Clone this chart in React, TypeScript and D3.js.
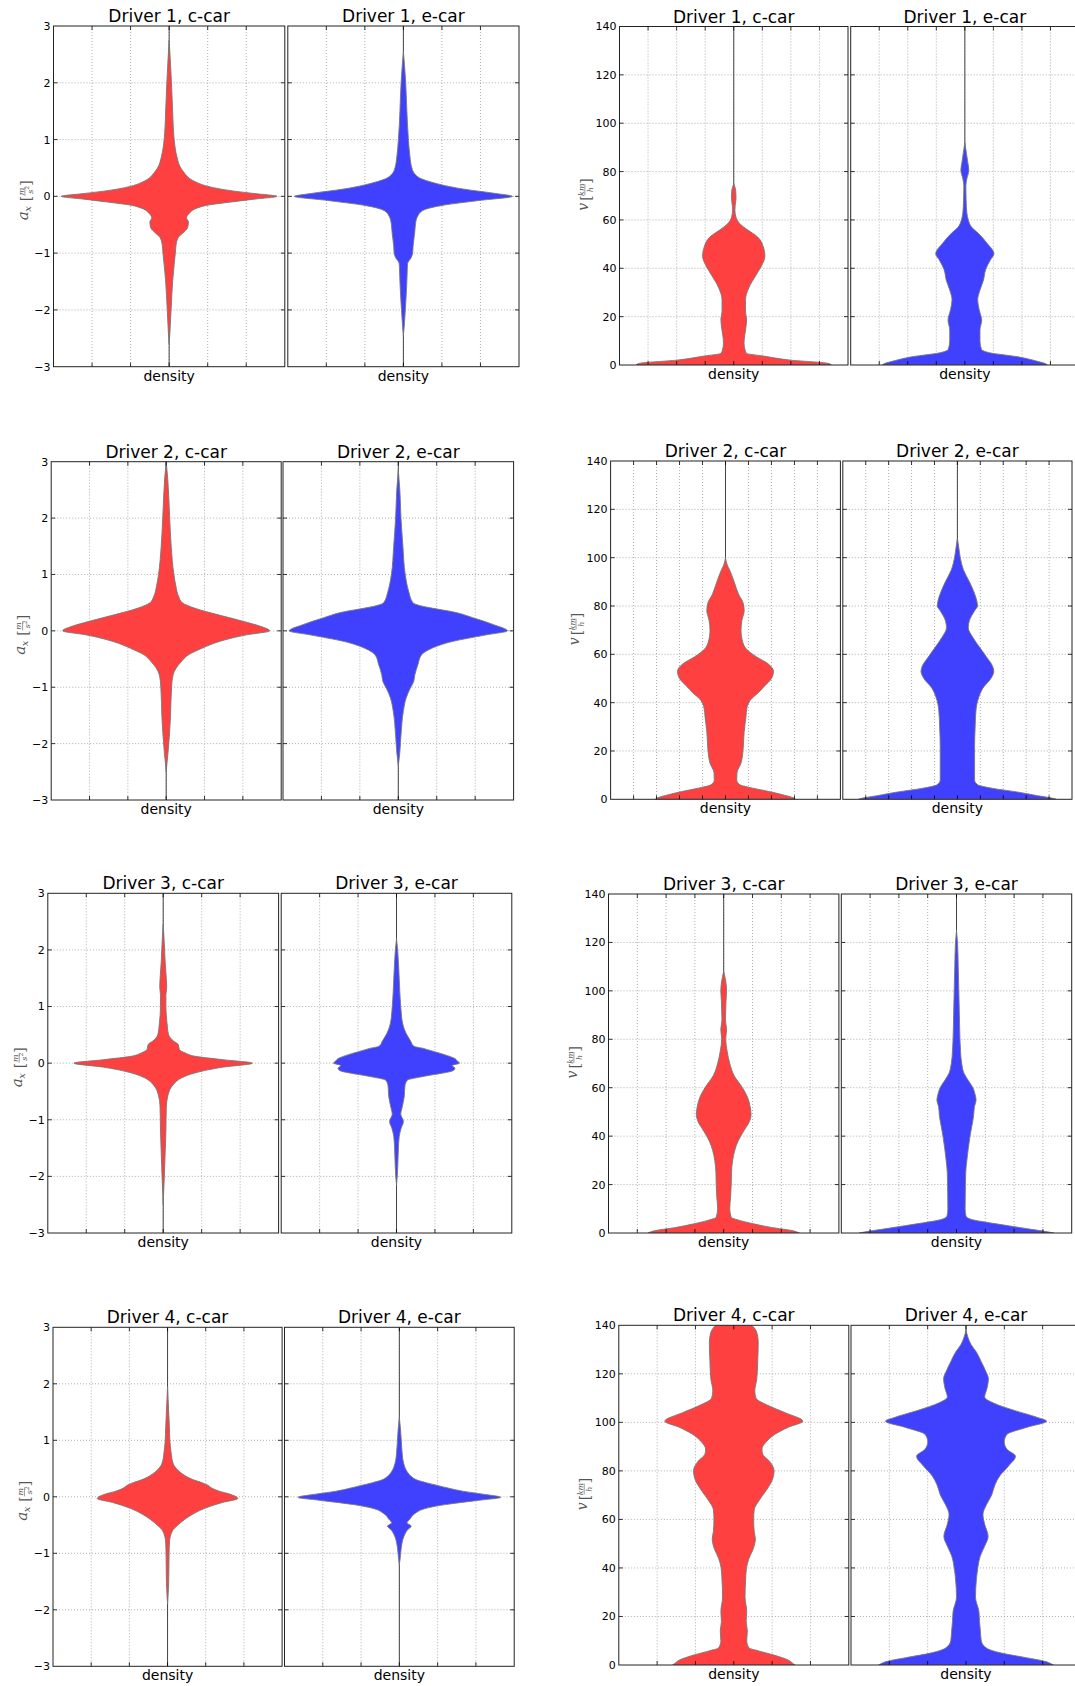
import React from 'react';
import * as d3 from 'd3';

type Pt = [number, number]; // [value, half-width in density grid units]

const drivers = ['Driver 1', 'Driver 2', 'Driver 3', 'Driver 4'];
const cars = ['c-car', 'e-car'];
const carColors = ['#ff4040', '#4040ff'];
const accelTicks = [-3, -2, -1, 0, 1, 2, 3];
const accelTickLabels = ['\u22123', '\u22122', '\u22121', '0', '1', '2', '3'];
const speedTicks = [0, 20, 40, 60, 80, 100, 120, 140];
const speedTickLabels = ['0', '20', '40', '60', '80', '100', '120', '140'];

// ---- acceleration density profiles (a_x in m/s^2, half width) ----
const accelD1C: Pt[] = [
  [2.75, 0], [2.4, 0.03], [2.0, 0.06], [1.5, 0.09], [1.0, 0.13], [0.7, 0.2], [0.5, 0.3], [0.4, 0.41],
  [0.32, 0.52], [0.25, 0.7], [0.17, 1.04], [0.1, 1.6], [0.05, 2.2], [0, 2.8], [-0.05, 2.2], [-0.1, 1.6],
  [-0.15, 1.04], [-0.2, 0.75], [-0.3, 0.52], [-0.38, 0.45], [-0.45, 0.5], [-0.55, 0.48], [-0.65, 0.35],
  [-0.72, 0.24], [-0.85, 0.18], [-1.0, 0.16], [-1.2, 0.13], [-1.5, 0.09], [-2.0, 0.05], [-2.4, 0.02], [-2.6, 0],
];
const accelD1E: Pt[] = [
  [2.55, 0], [2.3, 0.03], [2.0, 0.06], [1.5, 0.09], [1.0, 0.13], [0.7, 0.17], [0.5, 0.22], [0.4, 0.29],
  [0.3, 0.5], [0.25, 0.73], [0.13, 1.54], [0.05, 2.4], [0, 2.83], [-0.07, 2.0], [-0.16, 1.0], [-0.25, 0.5],
  [-0.35, 0.37], [-0.42, 0.33], [-0.66, 0.29], [-0.89, 0.25], [-1.0, 0.24], [-1.08, 0.2], [-1.18, 0.11],
  [-1.3, 0.1], [-1.5, 0.09], [-2.0, 0.05], [-2.3, 0.02], [-2.45, 0],
];
const accelD2C: Pt[] = [
  [3.0, 0], [2.7, 0.04], [2.0, 0.09], [1.5, 0.13], [1.0, 0.2], [0.8, 0.25], [0.6, 0.33], [0.5, 0.42],
  [0.4, 0.75], [0.28, 1.38], [0.17, 2.0], [0.08, 2.46], [0, 2.7], [-0.07, 2.1], [-0.19, 1.38], [-0.31, 0.93],
  [-0.43, 0.57], [-0.55, 0.39], [-0.66, 0.26], [-0.78, 0.18], [-1.0, 0.14], [-1.55, 0.11], [-2.14, 0.05],
  [-2.35, 0.02], [-2.5, 0],
];
const accelD2E: Pt[] = [
  [2.85, 0], [2.5, 0.04], [2.0, 0.07], [1.5, 0.12], [1.0, 0.18], [0.7, 0.27], [0.5, 0.38], [0.45, 0.55],
  [0.4, 0.9], [0.34, 1.4], [0.22, 2.0], [0.11, 2.48], [0, 2.84], [-0.07, 2.3], [-0.19, 1.4], [-0.31, 0.87],
  [-0.43, 0.6], [-0.6, 0.51], [-0.78, 0.43], [-0.9, 0.4], [-1.02, 0.31], [-1.2, 0.2], [-1.43, 0.13],
  [-1.85, 0.07], [-2.15, 0.04], [-2.4, 0],
];
const accelD3C: Pt[] = [
  [2.45, 0], [2.1, 0.03], [1.8, 0.05], [1.5, 0.08], [1.35, 0.09], [1.2, 0.07], [1.0, 0.07], [0.7, 0.1],
  [0.5, 0.14], [0.39, 0.27], [0.33, 0.39], [0.24, 0.42], [0.18, 0.57], [0.12, 0.84], [0.06, 1.56], [0, 2.32],
  [-0.07, 1.56], [-0.17, 0.84], [-0.26, 0.48], [-0.38, 0.26], [-0.55, 0.13], [-0.8, 0.08], [-1.2, 0.07],
  [-1.6, 0.05], [-2.0, 0.03], [-2.3, 0.01], [-2.5, 0],
];
const accelD3E: Pt[] = [
  [2.2, 0], [2.0, 0.03], [1.5, 0.07], [1.0, 0.11], [0.7, 0.16], [0.5, 0.27], [0.4, 0.36], [0.3, 0.45],
  [0.26, 0.7], [0.22, 0.9], [0.15, 1.25], [0.08, 1.52], [0.04, 1.58], [0, 1.64], [-0.04, 1.45], [-0.09, 1.52],
  [-0.13, 1.48], [-0.17, 1.25], [-0.21, 0.9], [-0.25, 0.58], [-0.3, 0.28], [-0.4, 0.22], [-0.6, 0.2],
  [-0.8, 0.14], [-0.9, 0.11], [-1.03, 0.18], [-1.15, 0.12], [-1.3, 0.07], [-1.5, 0.05], [-2.0, 0.02], [-2.15, 0],
];
const accelD4C: Pt[] = [
  [1.95, 0], [1.5, 0.03], [1.2, 0.05], [1.0, 0.06], [0.8, 0.09], [0.6, 0.14], [0.5, 0.23], [0.4, 0.4],
  [0.3, 0.68], [0.25, 0.9], [0.21, 1.04], [0.15, 1.17], [0.1, 1.35], [0.05, 1.62], [-0.03, 1.84], [-0.1, 1.44],
  [-0.2, 0.99], [-0.3, 0.68], [-0.4, 0.45], [-0.5, 0.27], [-0.6, 0.13], [-0.8, 0.05], [-1.0, 0.04],
  [-1.5, 0.03], [-1.9, 0],
];
const accelD4E: Pt[] = [
  [1.4, 0], [1.2, 0.03], [1.0, 0.05], [0.8, 0.07], [0.6, 0.11], [0.45, 0.2], [0.35, 0.33], [0.3, 0.45],
  [0.25, 0.7], [0.2, 1.0], [0.15, 1.3], [0.1, 1.65], [0.05, 2.15], [-0.01, 2.65], [-0.06, 2.1], [-0.1, 1.62],
  [-0.15, 1.08], [-0.2, 0.72], [-0.3, 0.4], [-0.4, 0.27], [-0.46, 0.2], [-0.52, 0.31], [-0.58, 0.22],
  [-0.7, 0.12], [-0.9, 0.05], [-1.1, 0.02], [-1.2, 0],
];

// ---- speed density profiles (v in km/h, half width) ----
const speedD1C: Pt[] = [
  [75, 0], [72, 0.07], [69, 0.08], [66, 0.05], [64, 0.04], [61, 0.08], [58, 0.25], [56, 0.47], [53, 0.83],
  [49, 1.03], [45, 1.09], [41, 0.97], [37, 0.77], [32, 0.53], [27, 0.41], [22, 0.41], [19, 0.45], [15, 0.42],
  [12, 0.38], [9, 0.36], [6, 0.4], [4.8, 0.45], [3.7, 1.04], [2, 2.0], [0.7, 3.3], [0, 3.42],
];
const speedD1E: Pt[] = [
  [92, 0], [88, 0.05], [84, 0.1], [80.5, 0.14], [77, 0.07], [74, 0.035], [68, 0.045], [63, 0.07], [60, 0.12],
  [57, 0.24], [54.5, 0.47], [50.5, 0.77], [46, 1.02], [43.5, 0.9], [39.5, 0.73], [35, 0.65], [31, 0.53],
  [27, 0.45], [23, 0.5], [18.5, 0.59], [14.5, 0.53], [10, 0.53], [6.5, 0.58], [5, 0.9], [3.5, 1.8],
  [1.5, 2.55], [0.4, 2.85], [0, 2.88],
];
const speedD2C: Pt[] = [
  [100, 0], [97, 0.06], [95, 0.14], [90, 0.3], [85, 0.45], [81, 0.62], [78, 0.65], [74, 0.57], [70, 0.54],
  [65, 0.6], [62, 0.74], [59, 1.07], [56, 1.49], [53, 1.67], [50, 1.6], [47, 1.37], [44, 1.13], [41, 0.86],
  [38, 0.75], [34, 0.71], [28, 0.65], [22, 0.62], [19, 0.6], [15, 0.54], [11, 0.4], [8, 0.39], [6, 0.5],
  [5, 0.8], [3.5, 1.4], [2, 1.95], [0.5, 2.38], [0, 2.44],
];
const speedD2E: Pt[] = [
  [108, 0], [104, 0.05], [100, 0.1], [95, 0.21], [90, 0.42], [86, 0.57], [82, 0.68], [80, 0.7], [78, 0.6],
  [74, 0.42], [71, 0.38], [67, 0.54], [63, 0.77], [59, 1.01], [55, 1.23], [53, 1.27], [50, 1.17], [46, 0.89],
  [42, 0.74], [37, 0.65], [30, 0.62], [22, 0.6], [12, 0.6], [8, 0.6], [6, 0.71], [4.5, 1.25], [3, 2.1],
  [1.5, 2.8], [0.5, 3.3], [0, 3.45],
];
const speedD3C: Pt[] = [
  [108, 0], [104, 0.07], [100, 0.1], [96, 0.08], [92, 0.07], [88, 0.06], [84, 0.1], [80, 0.07], [75, 0.12],
  [70, 0.21], [65, 0.36], [60, 0.65], [56, 0.83], [52, 0.92], [49, 0.95], [46, 0.89], [42, 0.69], [38, 0.5],
  [34, 0.38], [30, 0.31], [25, 0.27], [20, 0.26], [15, 0.24], [10, 0.21], [6.5, 0.26], [5.2, 0.55],
  [3.7, 1.07], [2.3, 1.66], [1, 2.37], [0, 2.63],
];
const speedD3E: Pt[] = [
  [125, 0], [120, 0.035], [110, 0.06], [100, 0.08], [90, 0.1], [80, 0.12], [75, 0.14], [70, 0.18], [66, 0.26],
  [63, 0.41], [60, 0.57], [57, 0.65], [55, 0.68], [52, 0.62], [48, 0.59], [44, 0.53], [40, 0.47], [35, 0.41],
  [30, 0.36], [25, 0.32], [20, 0.31], [10, 0.3], [7, 0.33], [5.5, 0.55], [4.5, 1.0], [3, 1.8], [1.5, 2.6],
  [0.5, 3.15], [0, 3.38],
];
const speedD4C: Pt[] = [
  [141, 0.5], [140, 0.62], [137, 0.8], [133, 0.85], [125, 0.83], [118, 0.8], [113, 0.73], [110, 0.77],
  [107, 1.18], [104, 1.78], [100.5, 2.4], [98, 1.9], [95, 1.42], [92, 1.13], [89, 0.98], [87, 1.0], [84, 1.24],
  [80, 1.4], [76, 1.33], [72, 1.13], [68, 0.89], [64, 0.71], [60, 0.69], [55, 0.71], [52, 0.75], [48, 0.68],
  [44, 0.53], [40, 0.44], [35, 0.41], [28, 0.39], [22, 0.45], [18, 0.43], [14, 0.47], [10, 0.45], [7, 0.53],
  [6, 0.8], [4, 1.42], [2, 1.9], [0.5, 2.07], [0, 2.13],
];
const speedD4E: Pt[] = [
  [138, 0], [135, 0.07], [132, 0.18], [129, 0.36], [125, 0.53], [121, 0.69], [118, 0.78], [114, 0.73],
  [110.5, 0.65], [108, 0.95], [105, 1.66], [102, 2.49], [100.5, 2.8], [98, 2.13], [95, 1.42], [92, 1.33],
  [89, 1.42], [86, 1.72], [82, 1.48], [78, 1.18], [74, 1.0], [70, 0.89], [66, 0.71], [62, 0.59], [58, 0.65],
  [53, 0.77], [49, 0.65], [45, 0.5], [40, 0.41], [35, 0.36], [28, 0.33], [22, 0.45], [18, 0.47], [14, 0.5],
  [10, 0.53], [7, 0.71], [5, 1.2], [3, 2.1], [1.5, 2.75], [0.5, 2.96], [0, 3.04],
];

const accelProfiles: Pt[][][] = [
  [accelD1C, accelD1E], [accelD2C, accelD2E], [accelD3C, accelD3E], [accelD4C, accelD4E],
];
const speedProfiles: Pt[][][] = [
  [speedD1C, speedD1E], [speedD2C, speedD2E], [speedD3C, speedD3E], [speedD4C, speedD4E],
];

// ---- layout (pixels) ----
type Row = { y0: number; y1: number; xs: number[][]; grid: number };
const accelLayout: Row[] = [
  { y0: 26, y1: 366.7, xs: [[53.5, 284.8], [287.8, 519]], grid: 6 },
  { y0: 461.7, y1: 800, xs: [[51.2, 281.2], [283, 513.6]], grid: 6 },
  { y0: 893.3, y1: 1233, xs: [[47.8, 278.6], [281.2, 511.8]], grid: 6 },
  { y0: 1327.3, y1: 1666.3, xs: [[53, 282.1], [284.5, 514.2]], grid: 6 },
];
const speedLayout: Row[] = [
  { y0: 26.5, y1: 365, xs: [[619.5, 848], [850.7, 1079]], grid: 8 },
  { y0: 461, y1: 799.3, xs: [[610.6, 840.4], [842.8, 1072]], grid: 10 },
  { y0: 894, y1: 1233, xs: [[608.5, 838.9], [841.3, 1071.7]], grid: 8 },
  { y0: 1325.3, y1: 1665, xs: [[618.8, 848.8], [851, 1081]], grid: 6 },
];

const FONT = "'DejaVu Sans', sans-serif";
const SERIF = "'DejaVu Serif', serif";

function AccelLabel({ x, y }: { x: number; y: number }) {
  return (
    <g transform={`translate(${x},${y}) rotate(-90)`} fill="#555" fontFamily={SERIF}>
      <text x={-20} y={0} fontSize={15} fontStyle="italic">a</text>
      <text x={-11.5} y={3} fontSize={10} fontStyle="italic">x</text>
      <text x={-1} y={3} fontSize={14}>[</text>
      <text x={9} y={-4} fontSize={8} fontStyle="italic" textAnchor="middle">m</text>
      <line x1={4.5} x2={13.5} y1={-2.6} y2={-2.6} stroke="#555" strokeWidth={0.6} />
      <text x={6.5} y={5} fontSize={8} fontStyle="italic">s</text>
      <text x={10.8} y={1.5} fontSize={5.5}>2</text>
      <text x={14.5} y={3} fontSize={14}>]</text>
    </g>
  );
}

function SpeedLabel({ x, y }: { x: number; y: number }) {
  return (
    <g transform={`translate(${x},${y}) rotate(-90)`} fill="#555" fontFamily={SERIF}>
      <text x={-15} y={0} fontSize={14} fontStyle="italic">v</text>
      <text x={-5} y={3} fontSize={14}>[</text>
      <text x={6} y={-4} fontSize={8} fontStyle="italic" textAnchor="middle">km</text>
      <line x1={0.5} x2={11.5} y1={-2.6} y2={-2.6} stroke="#555" strokeWidth={0.6} />
      <text x={6} y={5} fontSize={8} fontStyle="italic" textAnchor="middle">h</text>
      <text x={12} y={3} fontSize={14}>]</text>
    </g>
  );
}

type PanelProps = {
  id: string;
  x0: number; x1: number; y0: number; y1: number;
  yDomain: [number, number];
  halfX: number;
  gridN: number;
  yTicks: number[];
  yTickLabels: string[];
  showYTicks: boolean;
  profile: Pt[];
  color: string;
  title: string;
};

function Panel(p: PanelProps) {
  const x = d3.scaleLinear().domain([-p.halfX, p.halfX]).range([p.x0, p.x1]);
  const y = d3.scaleLinear().domain(p.yDomain).range([p.y1, p.y0]);
  const pts = [...p.profile].sort((a, b) => b[0] - a[0]);
  const area = d3
    .area<Pt>()
    .y((d) => y(d[0]))
    .x0((d) => x(-d[1]))
    .x1((d) => x(d[1]))
    .curve(d3.curveMonotoneY);
  const gridXs = d3.range(1, p.gridN).map((k) => p.x0 + ((p.x1 - p.x0) * k) / p.gridN);
  const cx = x(0);
  const innerY = p.yTicks.slice(1, -1);
  const tickLen = 4;
  return (
    <g>
      <defs>
        <clipPath id={p.id}>
          <rect x={p.x0} y={p.y0} width={p.x1 - p.x0} height={p.y1 - p.y0} />
        </clipPath>
      </defs>
      {/* grid */}
      <g stroke="#9a9a9a" strokeWidth={0.8} strokeDasharray="1,2">
        {innerY.map((t) => (
          <line key={'gy' + t} x1={p.x0} x2={p.x1} y1={y(t)} y2={y(t)} />
        ))}
        {gridXs.map((gx, i) => (
          <line key={'gx' + i} x1={gx} x2={gx} y1={p.y0} y2={p.y1} />
        ))}
      </g>
      {/* center line */}
      <line x1={cx} x2={cx} y1={p.y0} y2={p.y1} stroke="#444" strokeWidth={1} />
      {/* violin */}
      <g clipPath={`url(#${p.id})`}>
        <path d={area(pts) || ''} fill={p.color} stroke="#777" strokeWidth={0.9} />
      </g>
      {/* ticks */}
      <g stroke="#000" strokeWidth={0.8}>
        {innerY.map((t) => (
          <g key={'ty' + t}>
            <line x1={p.x0} x2={p.x0 + tickLen} y1={y(t)} y2={y(t)} />
            <line x1={p.x1 - tickLen} x2={p.x1} y1={y(t)} y2={y(t)} />
          </g>
        ))}
        {gridXs.map((gx, i) => (
          <g key={'tx' + i}>
            <line x1={gx} x2={gx} y1={p.y1} y2={p.y1 - tickLen} />
            <line x1={gx} x2={gx} y1={p.y0} y2={p.y0 + tickLen} />
          </g>
        ))}
      </g>
      {/* frame */}
      <rect x={p.x0} y={p.y0} width={p.x1 - p.x0} height={p.y1 - p.y0} fill="none" stroke="#222" strokeWidth={1} />
      {/* y tick labels */}
      {p.showYTicks &&
        p.yTicks.map((t, i) => (
          <text
            key={'yl' + t}
            x={p.x0 - 3}
            y={y(t)}
            dy="0.36em"
            textAnchor="end"
            fontSize={11}
            fontFamily={FONT}
            fill="#000"
          >
            {p.yTickLabels[i]}
          </text>
        ))}
      <text x={(p.x0 + p.x1) / 2} y={p.y0 - 4} textAnchor="middle" fontSize={17} fontFamily={FONT} fill="#000">
        {p.title}
      </text>
      <text x={(p.x0 + p.x1) / 2} y={p.y1 + 14} textAnchor="middle" fontSize={14} fontFamily={FONT} fill="#000">
        density
      </text>
    </g>
  );
}

export default function App() {
  const panels: React.ReactNode[] = [];
  drivers.forEach((drv, r) => {
    const a = accelLayout[r];
    const s = speedLayout[r];
    cars.forEach((car, c) => {
      panels.push(
        <Panel
          key={`a${r}${c}`}
          id={`clip-a-${r}-${c}`}
          x0={a.xs[c][0]} x1={a.xs[c][1]} y0={a.y0} y1={a.y1}
          yDomain={[-3, 3]}
          halfX={3}
          gridN={a.grid}
          yTicks={accelTicks}
          yTickLabels={accelTickLabels}
          showYTicks={c === 0}
          profile={accelProfiles[r][c]}
          color={carColors[c]}
          title={`${drv}, ${car}`}
        />
      );
      panels.push(
        <Panel
          key={`s${r}${c}`}
          id={`clip-s-${r}-${c}`}
          x0={s.xs[c][0]} x1={s.xs[c][1]} y0={s.y0} y1={s.y1}
          yDomain={[0, 140]}
          halfX={4}
          gridN={s.grid}
          yTicks={speedTicks}
          yTickLabels={speedTickLabels}
          showYTicks={c === 0}
          profile={speedProfiles[r][c]}
          color={carColors[c]}
          title={`${drv}, ${car}`}
        />
      );
    });
    panels.push(<AccelLabel key={`al${r}`} x={a.xs[0][0] - 26} y={(a.y0 + a.y1) / 2 + 4} />);
    panels.push(<SpeedLabel key={`sl${r}`} x={s.xs[0][0] - 32} y={(s.y0 + s.y1) / 2} />);
  });
  return (
    <svg
      width={1075}
      height={1686}
      style={{ position: 'absolute', left: 0, top: 0, background: '#fff' }}
      xmlns="http://www.w3.org/2000/svg"
    >
      <rect x={0} y={0} width={1075} height={1686} fill="#fff" />
      {panels}
    </svg>
  );
}
